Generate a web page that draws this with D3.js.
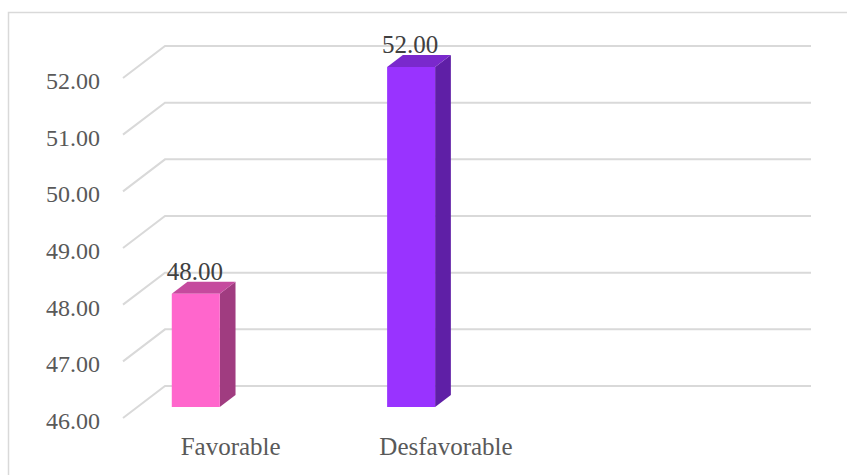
<!DOCTYPE html>
<html>
<head>
<meta charset="utf-8">
<script src="https://cdn.jsdelivr.net/npm/d3@7"></script>
<style>
  body { margin: 0; background: #fff; }
  svg { display: block; }
</style>
</head>
<body>
<div id="viz"></div>
<script>
// chart data
var categories = ["Favorable", "Desfavorable", ""];
var values = [48, 52, null];
var tickValues = [46, 47, 48, 49, 50, 51, 52];
var frontColors = ["#ff66cc", "#9933ff"];
var topColors = ["#c54a9e", "#7a29cc"];
var sideColors = ["#a03c80", "#5f1fa6"];

var width = 847, height = 475;

// oblique 3d: depth vector from back wall to front edge of floor
var DX = -42, DY = 32;
var fFront = 0.66, fBack = 0.285;
var barOffset = 34.5, barWidth = 48;

var svg = d3.select("#viz")
    .append("svg")
    .attr("width", width)
    .attr("height", height);

// chart border
svg.append("rect")
    .attr("x", 8.5)
    .attr("y", 12.5)
    .attr("width", 900)
    .attr("height", 600)
    .attr("fill", "none")
    .attr("stroke", "#d9d9d9")
    .attr("stroke-width", 1.5);

var x = d3.scaleBand()
    .domain(categories)
    .range([165, 811]);

var y = d3.scaleLinear()
    .domain([46, 52])
    .range([386, 46]);

function proj(X, Y, f) {
    return [X + DX * f, Y + DY * f];
}

// gridlines: back wall + side wall
var grid = svg.append("g");
tickValues.forEach(function(v) {
    var back = [x.range()[0], y(v)];
    var front = proj(x.range()[0], y(v), 1);
    grid.append("path")
        .attr("d", d3.line()([front, back, [x.range()[1], y(v)]]))
        .attr("fill", "none")
        .attr("stroke", "#d9d9d9")
        .attr("stroke-width", 2);
});

// y tick labels
svg.append("g").selectAll("text")
    .data(tickValues)
    .enter()
    .append("text")
    .attr("x", 100)
    .attr("y", function(d) { return y(d) + DY + 11; })
    .attr("text-anchor", "end")
    .attr("style", "font-family: 'Liberation Serif', serif; font-size: 24px; fill: #595959;")
    .text(function(d) { return d3.format(".2f")(d); });

// bars
var bars = categories.map(function(c, i) { return {cat: c, value: values[i], i: i}; })
    .filter(function(d) { return d.value != null; });

var barG = svg.append("g");
bars.forEach(function(d) {
    var x0 = x(d.cat) + barOffset, x1 = x0 + barWidth;
    var yb = y(y.domain()[0]), yt = y(d.value);

    var front = [proj(x0, yt, fFront), proj(x1, yt, fFront), proj(x1, yb, fFront), proj(x0, yb, fFront)];
    var side = [proj(x1, yt, fFront), proj(x1, yt, fBack), proj(x1, yb, fBack), proj(x1, yb, fFront)];
    var top = [proj(x0, yt, fFront), proj(x0, yt, fBack), proj(x1, yt, fBack), proj(x1, yt, fFront)];

    barG.append("polygon")
        .attr("points", side.join(" "))
        .attr("fill", sideColors[d.i]);
    barG.append("polygon")
        .attr("points", top.join(" "))
        .attr("fill", topColors[d.i]);
    barG.append("polygon")
        .attr("points", front.join(" "))
        .attr("fill", frontColors[d.i]);

    // data label
    var p = proj((x0 + x1) / 2, yt, fFront);
    svg.append("text")
        .attr("x", p[0] - 1)
        .attr("y", p[1] - 14)
        .attr("text-anchor", "middle")
        .attr("style", "font-family: 'Liberation Serif', serif; font-size: 25px; fill: #404040;")
        .text(d3.format(".2f")(d.value));
});

// category labels
svg.append("g").selectAll("text")
    .data(categories)
    .enter()
    .append("text")
    .attr("x", function(d) { return x(d) + x.bandwidth() / 2 + DX; })
    .attr("y", 455)
    .attr("text-anchor", "middle")
    .attr("style", "font-family: 'Liberation Serif', serif; font-size: 25px; fill: #595959;")
    .text(function(d) { return d; });
</script>
</body>
</html>
